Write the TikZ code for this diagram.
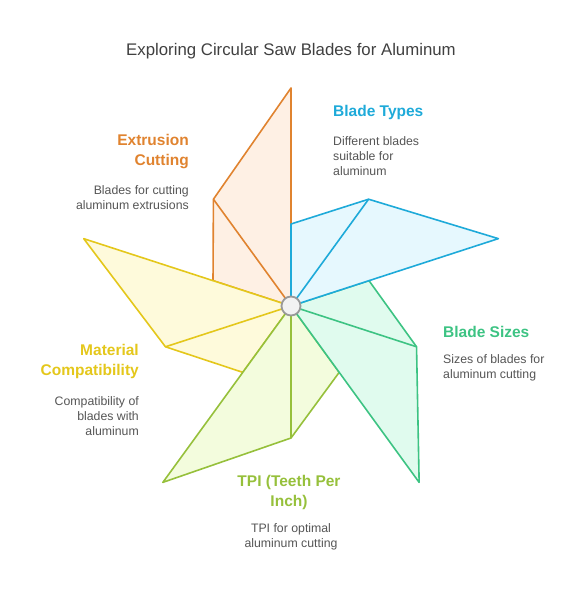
\documentclass[tikz,border=0pt]{standalone}
\usepackage{fontspec}
\setmainfont{Liberation Sans}
\usetikzlibrary{calc}
\definecolor{cblue}{HTML}{1EAAD9}
\definecolor{fblue}{HTML}{E6F8FE}
\definecolor{cgreen}{HTML}{3DC383}
\definecolor{fgreen}{HTML}{E0FBEE}
\definecolor{clime}{HTML}{96C03B}
\definecolor{flime}{HTML}{F3FCDD}
\definecolor{cyel}{HTML}{E4C71B}
\definecolor{fyel}{HTML}{FEFADB}
\definecolor{corg}{HTML}{E0832F}
\definecolor{forg}{HTML}{FEF0E4}
\definecolor{tgray}{HTML}{555555}
\begin{document}
\begin{tikzpicture}[x=1pt,y=-1pt,
  blade/.style={line width=1.6pt,line join=round},
  head/.style={font=\fontsize{15.5}{20}\selectfont\bfseries,inner sep=0pt},
  desc/.style={font=\fontsize{12.3}{15}\selectfont,text=tgray,inner sep=0pt}]
\useasboundingbox (0,0) rectangle (582,592);
\coordinate (O) at (291,306);
% blades: A at r=82 angle t, B at r=132 angle t-36, C at r=218 angle t-72
\foreach \t/\c/\f in {162/corg/forg,234/cyel/fyel,306/clime/flime,378/cgreen/fgreen,450/cblue/fblue}{
  \draw[blade,draw=\c,fill=\f] (O) -- ++({82*cos(\t)},{-82*sin(\t)})
    -- ($(O)+({132*cos(\t-36)},{-132*sin(\t-36)})$)
    -- ($(O)+({218*cos(\t-72)},{-218*sin(\t-72)})$) -- cycle;
  \draw[blade,draw=\c] (O) -- ++({132*cos(\t-36)},{-132*sin(\t-36)});
}
\node[circle,draw=black!40,fill=black!5,line width=1.8pt,minimum size=19pt,inner sep=0pt] (hub) at (O) {};
\node[font=\fontsize{16.8}{18}\selectfont,text=black!75,inner sep=0pt] (title) at (291,51) {Exploring Circular Saw Blades for Aluminum};
% Blade Types
\node[head,text=cblue,anchor=west] (bt) at (333,112.5) {Blade Types};
\node[desc,anchor=north west,align=left] (btd) at (333,136.5) {Different blades\\suitable for\\aluminum};
% Extrusion Cutting
\node[head,text=corg,anchor=north east,align=right] (ec) at (189,134.5) {Extrusion\\Cutting};
\node[desc,anchor=north east,align=right] (ecd) at (189,185.5) {Blades for cutting\\aluminum extrusions};
% Blade Sizes
\node[head,text=cgreen,anchor=west] (bs) at (443,332) {Blade Sizes};
\node[desc,anchor=north west,align=left] (bsd) at (443,354.5) {Sizes of blades for\\aluminum cutting};
% Material Compatibility
\node[head,text=cyel,anchor=north east,align=right] (mc) at (139,344.5) {Material\\Compatibility};
\node[desc,anchor=north east,align=right] (mcd) at (139,396.5) {Compatibility of\\blades with\\aluminum};
% TPI
\node[head,text=clime,anchor=north,align=center] (tpi) at (289,475) {TPI (Teeth Per\\Inch)};
\node[desc,anchor=north,align=center] (tpid) at (291,523.5) {TPI for optimal\\aluminum cutting};
\end{tikzpicture}
\end{document}
